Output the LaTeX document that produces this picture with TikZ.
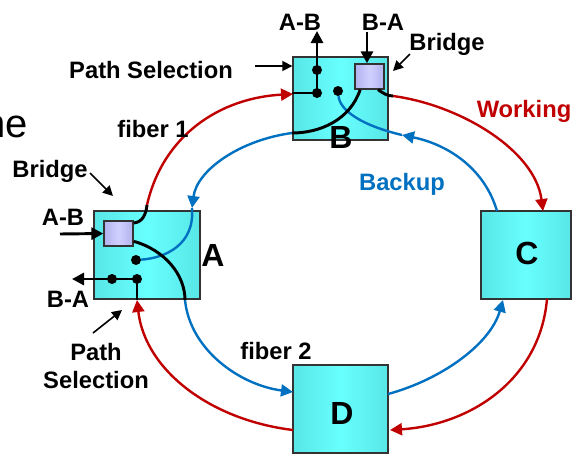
\documentclass[tikz,border=0pt]{standalone}
\usepackage{fontspec}
\setmainfont{Liberation Sans}
\usetikzlibrary{arrows.meta,fit}
\definecolor{wrk}{RGB}{192,0,0}
\definecolor{bak}{RGB}{0,112,192}
\definecolor{cyedge}{RGB}{88,230,230}
\definecolor{cymid}{RGB}{104,255,255}
\definecolor{lavedge}{RGB}{178,178,238}
\definecolor{lavmid}{RGB}{208,208,255}
\tikzset{
  nodebox/.style={draw=black!80,line width=1pt,inner sep=0pt,
    left color=cyedge,right color=cyedge,middle color=cymid},
  bridgebox/.style={nodebox,left color=lavedge,right color=lavedge,middle color=lavmid},
  lbl/.style={font=\bfseries\fontsize{17.8}{21}\selectfont,inner sep=0pt},
  big/.style={font=\bfseries\fontsize{24}{28}\selectfont,inner sep=0pt},
  dot/.style={circle,fill=black,inner sep=0pt,minimum size=7.5pt},
  wire/.style={line width=2.2pt},
  work/.style={wrk,line width=1.8pt},
  back/.style={bak,line width=1.8pt},
  tip/.style={-{Triangle[length=9pt,width=9pt]}},
  ptr/.style={line width=1.2pt,-{Triangle[length=7.5pt,width=7.5pt]}}
}

\begin{document}
\begin{tikzpicture}[x=0.75pt,y=-0.75pt]
  \useasboundingbox (0,0) rectangle (572,454);
  % stations and bridges
  \foreach \n/\x/\y/\X/\Y in {B/293/57/388/140, A/94/211/200/299,
      C/481/211/571/299, D/293/365/388/453}
    \node[nodebox,fit={(\x,\y)(\X,\Y)}] (\n) {};
  \node[bridgebox,fit={(355,64)(384,89)}] (brB) {};
  \node[bridgebox,fit={(104,221)(133,246)}] (brA) {};

  % ports on the boxes
  \coordinate (aTop) at (147,205);
  \coordinate (bIn) at (293,94);
  \coordinate (bOut) at (393,96);
  \coordinate (bLeft) at (292,133);
  \coordinate (aBin) at (192,208);
  \coordinate (bRin) at (402,135);
  \coordinate (cTopB) at (497,211);
  \coordinate (cTopW) at (543,211);
  \coordinate (cBotW) at (547,299);
  \coordinate (cBotB) at (503,300);
  \coordinate (dRW) at (390,430);
  \coordinate (dRB) at (388,394);
  \coordinate (dLW) at (293,430);
  \coordinate (dLB) at (293,392);
  \coordinate (aBotW) at (137,300);
  \coordinate (aBotB) at (185,300);

  % working ring
  \draw[work,tip] (aTop) .. controls (163,135) and (220,98) .. (bIn);
  \draw[work,tip] (bOut) .. controls (460,105) and (535,150) .. (cTopW);
  \draw[work,tip] (cBotW) .. controls (540,380) and (470,425) .. (dRW);
  \draw[work,tip] (dLW) .. controls (210,420) and (145,370) .. (aBotW);
  % backup ring
  \draw[back,tip] (aBotB) .. controls (190,350) and (240,385) .. (dLB);
  \draw[back,tip] (dRB) .. controls (440,380) and (490,345) .. (cBotB);
  \draw[back,tip] (cTopB) .. controls (485,170) and (450,145) .. (bRin);
  \draw[back,tip] (bLeft) .. controls (240,140) and (197,170) .. (aBin);

  % switches
  \foreach \n/\x/\y in {bd1/317/70, bd2/317/93, bd3/338/91,
      ad1/136/260, ad2/112/279, ad3/137/279}
    \node[dot] (\n) at (\x,\y) {};
  \draw[back] (bRin) .. controls (360,125) and (340,110) .. (bd3);
  \draw[back] (aBin) .. controls (195,245) and (165,258) .. (ad1);
  \draw[wire] ([yshift=-2pt]brA.north east) .. controls (143,222) and (146,214) .. (aTop);
  \draw[wire] ([yshift=4pt]brA.south east) .. controls (165,250) and (185,275) .. (aBotB);
  \draw[wire] ([xshift=-7pt]brB.south) .. controls (350,120) and (320,133) .. (bLeft);
  \draw[wire] ([xshift=-5pt]brB.south east) .. controls (383,93) and (387,96) .. (bOut);

  % add / drop
  \coordinate (abIn) at (60,234);
  \coordinate (baOut) at (72,279);
  \coordinate (abOut) at (317,31);
  \coordinate (baIn) at (367,32);
  \draw[wire,tip] (abIn) -- (brA.west);
  \draw[wire,tip] (ad3.center) -- (baOut);
  \draw[wire] (ad3.center) -- (ad3 |- A.south);
  \draw[wire,tip] (bd2.center) -- (abOut);
  \draw[wire] (bd2.center) -- (bd2 -| B.west);
  \draw[wire,tip] (baIn) -- (baIn |- brB.north);

  % labels
  \node[anchor=base east,inner sep=0pt,font=\fontsize{30}{34}\selectfont] (cut) at (28,137) {ne};
  \node[big] (labA) at (213,255) {A};
  \node[big] (labB) at (341,137) {B};
  \node[big] (labC) at (527,253) {C};
  \node[big] (labD) at (342,413) {D};
  \node[lbl,anchor=base] (psB) at (151,78) {Path Selection};
  \node[lbl,anchor=base] (tAB) at (300,30) {A-B};
  \node[lbl,anchor=base] (tBA) at (383,30) {B-A};
  \node[lbl,anchor=base] (brgB) at (447,50) {Bridge};
  \node[lbl,anchor=base,wrk] (wk) at (524,117) {Working};
  \node[lbl,anchor=base,bak] (bk) at (402,190) {Backup};
  \node[lbl,anchor=base] (f1) at (153,137) {fiber 1};
  \node[lbl,anchor=base] (f2) at (276,359) {fiber 2};
  \node[lbl,anchor=base] (brgA) at (50,177) {Bridge};
  \node[lbl,anchor=base] (lAB) at (63,225) {A-B};
  \node[lbl,anchor=base] (lBA) at (68,307) {B-A};
  \node[lbl,align=center] (psA) at (96,366) {Path\\Selection};

  % pointers
  \coordinate (pB) at (255,66);
  \coordinate (bB) at (410,54);
  \coordinate (bA) at (90,173);
  \coordinate (pA) at (93,333);
  \draw[ptr] (pB) -- (pB -| B.west);
  \draw[ptr] (bB) -- (393,71);
  \draw[ptr] (bA) -- (113,196);
  \draw[ptr] (pA) -- (122,310);
\end{tikzpicture}
\end{document}
